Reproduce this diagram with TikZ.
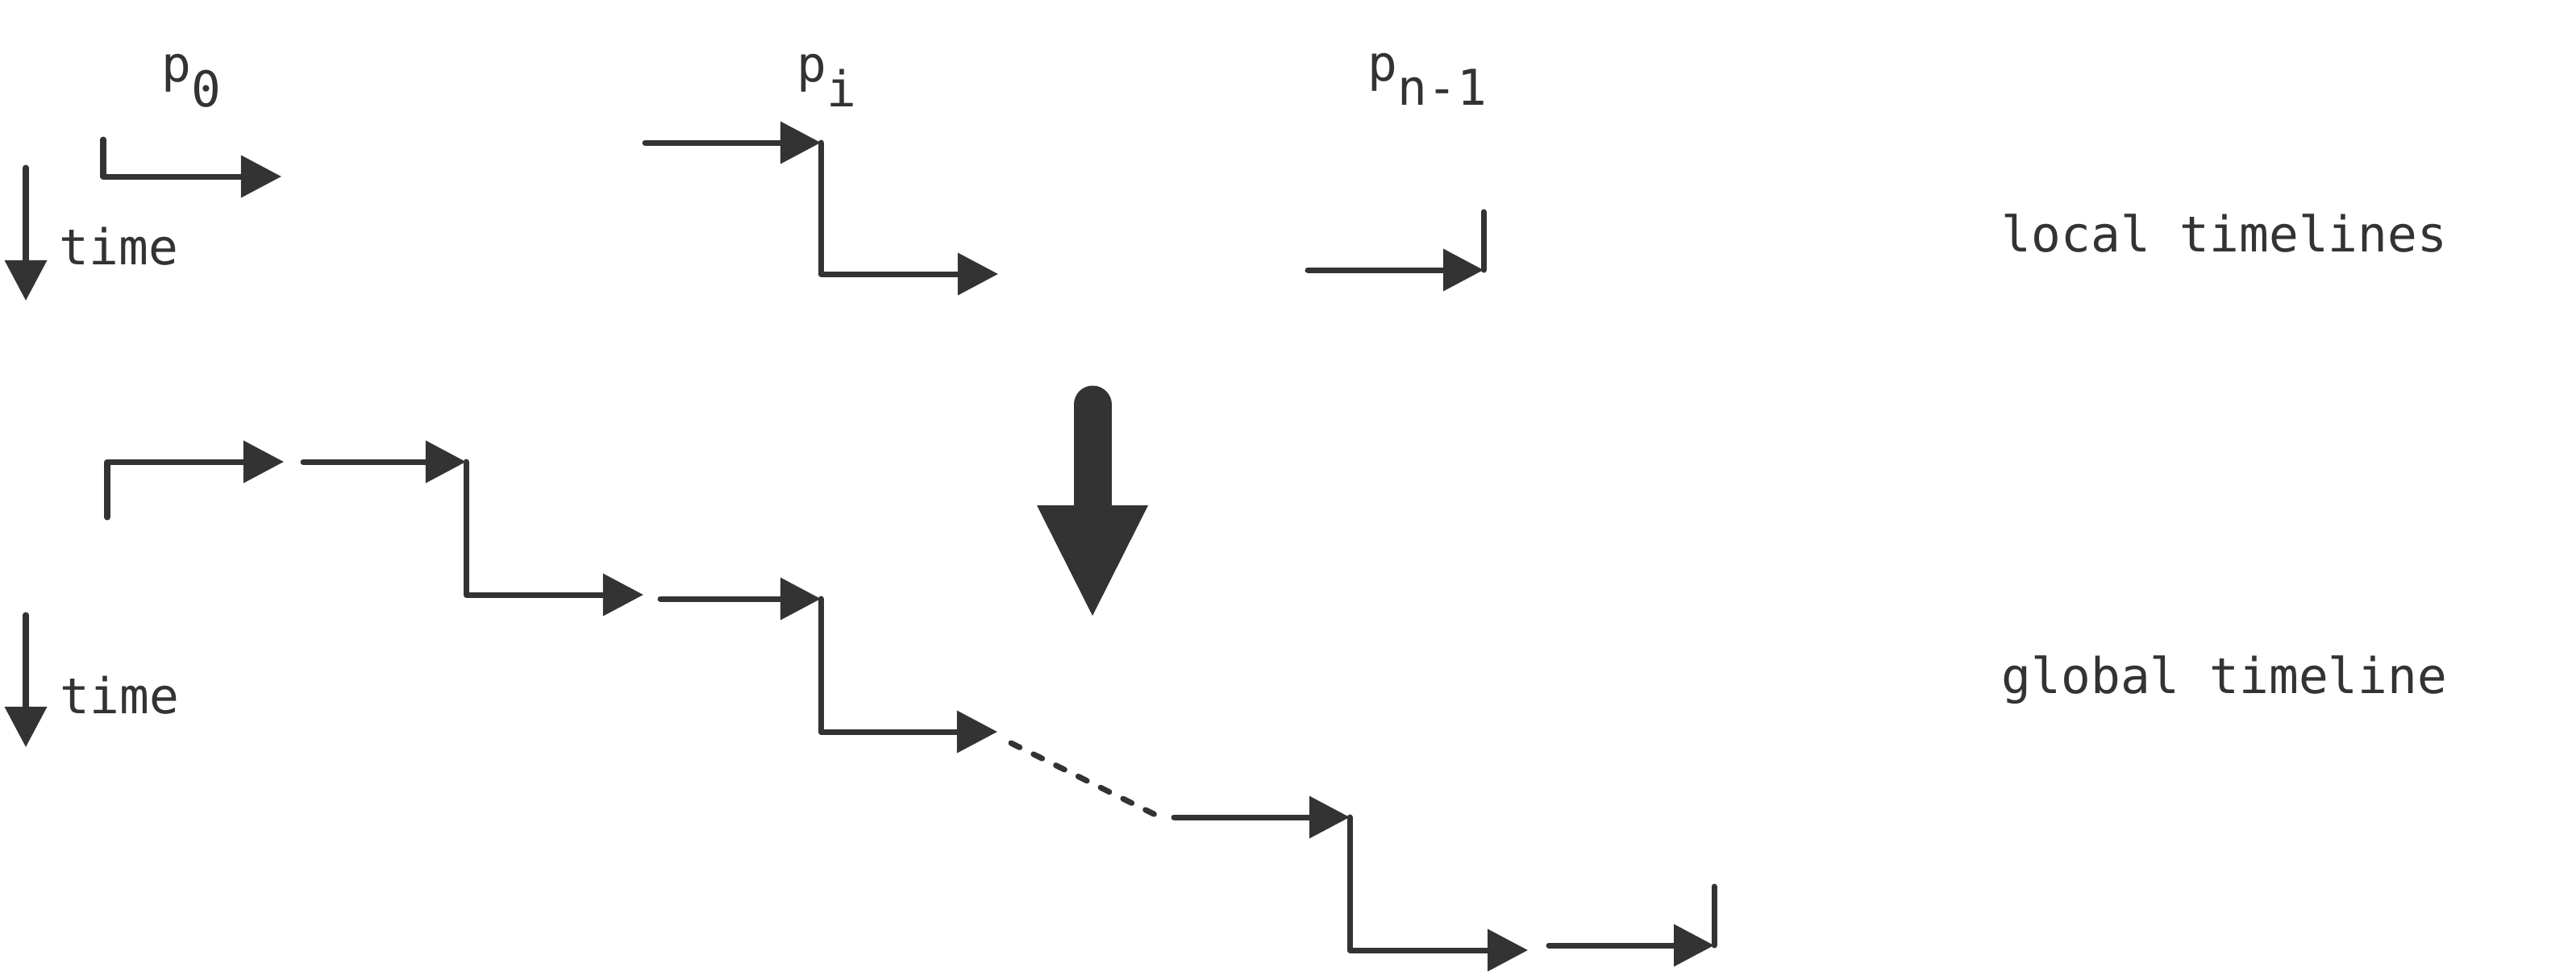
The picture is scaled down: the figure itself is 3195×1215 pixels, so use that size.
\documentclass[tikz,border=0pt]{standalone}
\usepackage{fontspec}
\newfontfamily\mono{DejaVu Sans Mono}
\usetikzlibrary{arrows.meta}
\definecolor{ink}{HTML}{333333}
\begin{document}
\begin{tikzpicture}[x=0.01cm,y=-0.01cm,
  seg/.style={draw=ink, line width=0.07cm, line cap=round, line join=round},
  arr/.style={seg, -{Triangle[length=5mm, width=5.1mm]}},
  dashseg/.style={seg, dash pattern=on 0.12cm off 0.19cm},
  lbl/.style={anchor=base west, inner sep=0pt, text=ink, font=\mono\fontsize{17.4pt}{20pt}\selectfont},
]
\useasboundingbox (0,0) rectangle (3195,1215);

% local timelines
\coordinate (l0a) at (128,173);
\coordinate (l0b) at (128,219);
\coordinate (l0c) at (349,219);
\coordinate (lia) at (800,177);
\coordinate (lib) at (1018,177);
\coordinate (lic) at (1018,340);
\coordinate (lid) at (1238,340);
\coordinate (lna) at (1622,335);
\coordinate (lnb) at (1840,335);
\coordinate (lnc) at (1840,263);
% time arrows
\coordinate (t1a) at (32,208);
\coordinate (t1b) at (32,373);
\coordinate (t2a) at (32,763);
\coordinate (t2b) at (32,927);
% global timeline
\coordinate (g1a) at (133,642);
\coordinate (g1b) at (133,573);
\coordinate (g1c) at (352,573);
\coordinate (g2a) at (376,573);
\coordinate (g2b) at (578,573);
\coordinate (g2c) at (578,738);
\coordinate (g2d) at (798,738);
\coordinate (g3a) at (819,743);
\coordinate (g3b) at (1018,743);
\coordinate (g3c) at (1018,908);
\coordinate (g3d) at (1237,908);
\coordinate (gda) at (1254,922);
\coordinate (gdb) at (1435,1012);
\coordinate (g4a) at (1456,1014);
\coordinate (g4b) at (1674,1014);
\coordinate (g4c) at (1674,1179);
\coordinate (g4d) at (1895,1179);
\coordinate (g5a) at (1921,1173);
\coordinate (g5b) at (2126,1173);
\coordinate (g5c) at (2126,1100);
% big arrow
\coordinate (ba) at (1355,502);
\coordinate (bb) at (1355,640);

\draw[arr] (l0a) -- (l0b) -- (l0c);
\draw[arr] (lia) -- (lib);
\draw[arr] (lib) -- (lic) -- (lid);
\draw[arr] (lna) -- (lnb);
\draw[seg] (lnc) -- (lnb);

\draw[arr] (t1a) -- (t1b);
\draw[arr] (t2a) -- (t2b);

\draw[arr] (g1a) -- (g1b) -- (g1c);
\draw[arr] (g2a) -- (g2b);
\draw[arr] (g2b) -- (g2c) -- (g2d);
\draw[arr] (g3a) -- (g3b);
\draw[arr] (g3b) -- (g3c) -- (g3d);
\draw[dashseg] (gda) -- (gdb);
\draw[arr] (g4a) -- (g4b);
\draw[arr] (g4b) -- (g4c) -- (g4d);
\draw[arr] (g5a) -- (g5b);
\draw[seg] (g5c) -- (g5b);

\draw[ink, line width=0.47cm, line cap=round] (ba) -- (bb);
\fill[ink] (1286,627) -- (1424,627) -- (1355,764) -- cycle;

\node[lbl] (p0) at (200,101) {p\raisebox{-0.31cm}{0}};
\node[lbl] (pi) at (988,101) {p\raisebox{-0.31cm}{i}};
\node[lbl] (pn) at (1696,100) {p\raisebox{-0.30cm}{n-1}};
\node[lbl] (time1) at (73,328) {time};
\node[lbl] (time2) at (74,885) {time};
\node[lbl] (loc) at (2482,312) {local timelines};
\node[lbl] (glob) at (2482,860) {global timeline};
\end{tikzpicture}
\end{document}
